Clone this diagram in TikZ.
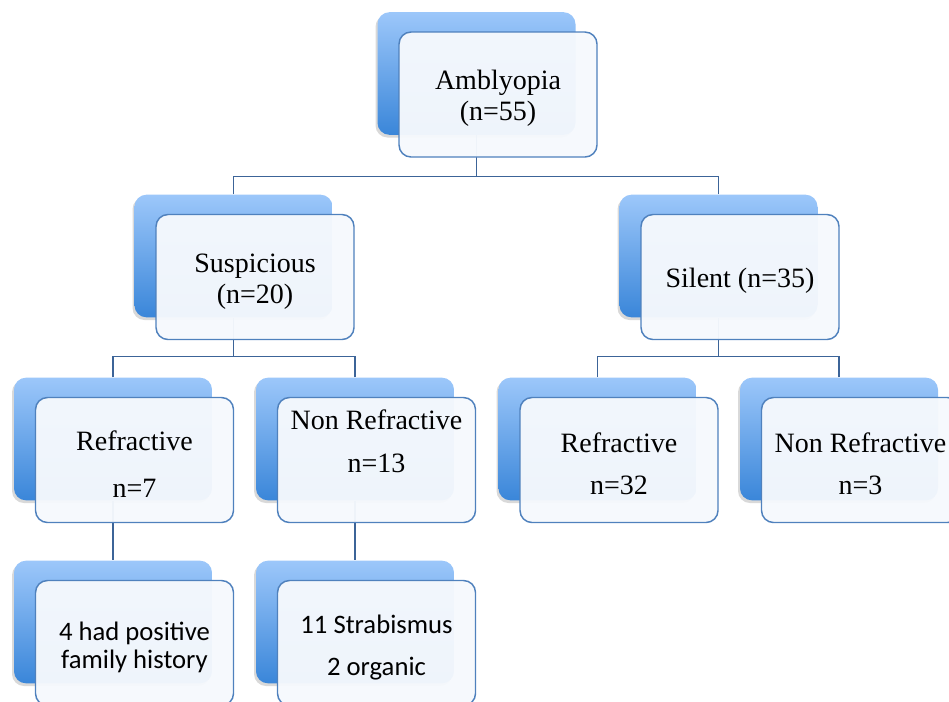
\documentclass[tikz,border=0pt]{standalone}
\usepackage{fontspec}
\setmainfont{Liberation Serif}
\newfontfamily\calibri{Carlito}
\usetikzlibrary{shadows}
\definecolor{boxblue}{RGB}{79,129,189}
\definecolor{lightblue}{RGB}{156,199,250}
\definecolor{midblue}{RGB}{58,134,217}
\definecolor{linkblue}{RGB}{60,100,152}
\definecolor{paleblue}{RGB}{246,249,253}

\tikzset{
  backbox/.style={rectangle, rounded corners=9pt, minimum width=148.5pt,
    minimum height=92pt, top color=lightblue, bottom color=midblue,
    drop shadow={shadow xshift=-1.5pt, shadow yshift=-2pt, opacity=0.3}},
  frontbox/.style={rectangle, rounded corners=9pt, draw=boxblue,
    line width=1.1pt, fill=paleblue, fill opacity=0.96, text opacity=1,
    minimum width=148.5pt, minimum height=93.75pt, text width=140pt,
    align=flush center, font=\fontsize{21}{23}\selectfont,
    execute at begin node={\rule{0pt}{20.5pt}}},
  leafbox/.style={frontbox, font=\calibri\fontsize{20}{21}\selectfont,
    execute at begin node={\rule{0pt}{19pt}}},
  link/.style={draw=linkblue, line width=1.1pt},
}

\begin{document}
\begin{tikzpicture}[x=0.75pt, y=-0.75pt]
  \useasboundingbox (0,0) rectangle (949,701);
  \clip (0,0) rectangle (949,701);

  % back boxes
  \node[backbox] (amb-b) at (476.5,73.5) {};
  \node[backbox] (sus-b) at (233.5,256) {};
  \node[backbox] (sil-b) at (718.5,256) {};
  \node[backbox] (ref1-b) at (113,439) {};
  \node[backbox] (non1-b) at (355,439) {};
  \node[backbox] (ref2-b) at (597.5,439) {};
  \node[backbox] (non2-b) at (839,439) {};
  \node[backbox] (fam-b) at (113,622) {};
  \node[backbox] (str-b) at (355,622) {};

  % connectors
  \draw[link] (sus-b.north) -- ++(0,-18) -| (amb-b.south);
  \draw[link] (sil-b.north) -- ++(0,-18) -| (amb-b.south);
  \draw[link] (ref1-b.north) -- ++(0,-21) -| (sus-b.south);
  \draw[link] (non1-b.north) -- ++(0,-21) -| (sus-b.south);
  \draw[link] (ref2-b.north) -- ++(0,-21) -| (sil-b.south);
  \draw[link] (non2-b.north) -- ++(0,-21) -| (sil-b.south);
  \draw[link] (ref1-b.south) -- (fam-b.north);
  \draw[link] (non1-b.south) -- (str-b.north);

  % front boxes
  \node[frontbox] (amb) at ([shift={(21.5,21)}]amb-b) {Amblyopia\\(n=55)};
  \node[frontbox] (sus) at ([shift={(21.5,21)}]sus-b) {Suspicious\\(n=20)};
  \node[frontbox] (sil) at ([shift={(21.5,21)}]sil-b) {Silent (n=35)};
  \node[frontbox] (ref1) at ([shift={(21.5,21)}]ref1-b) {Refractive\\[12pt]n=7};
  \node[frontbox] (non1) at ([shift={(21.5,21)}]non1-b) {Non Refractive\\[9pt]n=13\\[11pt]\mbox{}};
  \node[frontbox] (ref2) at ([shift={(21.5,21)}]ref2-b) {Refractive\\[9pt]n=32};
  \node[frontbox] (non2) at ([shift={(21.5,21)}]non2-b) {Non Refractive\\[9pt]n=3};
  \node[leafbox] (fam) at ([shift={(21.5,21)}]fam-b) {4 had positive\\family history};
  \node[leafbox] (str) at ([shift={(21.5,21)}]str-b) {11 Strabismus\\[10pt]2 organic};
\end{tikzpicture}
\end{document}
